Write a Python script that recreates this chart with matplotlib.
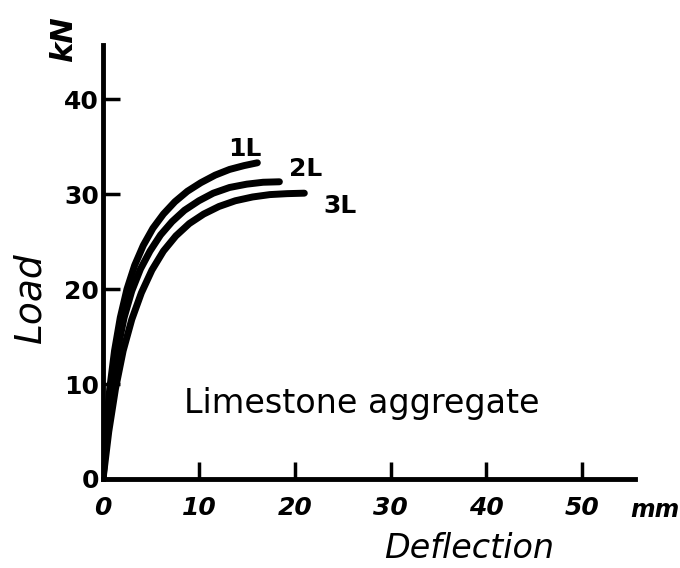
import matplotlib
matplotlib.use("Agg")
import matplotlib.pyplot as plt

# load-deflection curves (mm, kN)
x_1l = [0, 0.3, 0.7, 1.2, 1.8, 2.5, 3.3, 4.2, 5.2, 6.3, 7.5, 8.8, 10.2, 11.7, 13.2, 14.7, 16.1]
y_1l = [0, 5, 9.5, 13.5, 17, 20, 22.5, 24.6, 26.4, 27.9, 29.2, 30.3, 31.2, 32, 32.6, 33, 33.3]
x_2l = [0, 0.4, 0.9, 1.5, 2.2, 3, 3.9, 4.9, 6, 7.2, 8.5, 10, 11.5, 13.2, 15, 16.7, 18.4]
y_2l = [0, 5, 9.5, 13.5, 17, 19.8, 22.1, 24, 25.7, 27.1, 28.3, 29.3, 30.1, 30.7, 31.05, 31.25, 31.3]
x_3l = [0, 0.6, 1.3, 2.1, 3, 4, 5.1, 6.3, 7.6, 9, 10.5, 12.1, 13.8, 15.6, 17.4, 19.2, 21]
y_3l = [0, 5, 9.5, 13.5, 16.8, 19.6, 22, 24, 25.6, 26.9, 27.9, 28.7, 29.3, 29.7, 29.95, 30.05, 30.1]

series_names = ["1L", "2L", "3L"]
x_ticks = [0, 10, 20, 30, 40, 50]
y_ticks = [0, 10, 20, 30, 40]

fig = plt.figure(figsize=(6.8, 5.68), dpi=100)
ax = fig.add_axes([0.1515, 0.1567, 0.7824, 0.764])

for xs, ys in [(x_1l, y_1l), (x_2l, y_2l), (x_3l, y_3l)]:
    ax.plot(xs, ys, color="black", lw=5, solid_capstyle="round",
            solid_joinstyle="round")

ax.set_xlim(0, 55.5)
ax.set_ylim(0, 45.7)

for side in ["top", "right"]:
    ax.spines[side].set_visible(False)
for side in ["left", "bottom"]:
    ax.spines[side].set_linewidth(3.5)

ax.set_xticks(x_ticks)
ax.set_yticks(y_ticks)
ax.set_xticklabels([str(t) for t in x_ticks], fontsize=18, fontweight="bold",
                   fontstyle="italic")
ax.set_yticklabels([str(t) for t in y_ticks], fontsize=18, fontweight="bold")
ax.tick_params(axis="both", direction="in", length=12, width=2.5)
ax.tick_params(axis="x", pad=12)
ax.tick_params(axis="y", pad=3)

# curve labels
label_pos = [(14.8, 34.7), (21.1, 32.6), (24.7, 28.8)]
for name, (lx, ly) in zip(series_names, label_pos):
    ax.text(lx, ly, name, fontsize=18, fontweight="bold", ha="center", va="center")

ax.text(27.0, 8.0, "Limestone aggregate", fontsize=24, ha="center", va="center")

ax.text(-4.1, 46.3, "kN", fontsize=22, fontweight="bold", fontstyle="italic",
        rotation=90, ha="center", va="center", clip_on=False)
ax.text(-7.6, 19.1, "Load", fontsize=27, fontstyle="italic", rotation=90,
        ha="center", va="center", clip_on=False)
ax.text(38.2, -7.3, "Deflection", fontsize=24, fontstyle="italic",
        ha="center", va="center", clip_on=False)
ax.text(57.6, -3.3, "mm", fontsize=17, fontweight="bold", fontstyle="italic",
        ha="center", va="center", clip_on=False)

fig.savefig("out.png", dpi=100)
